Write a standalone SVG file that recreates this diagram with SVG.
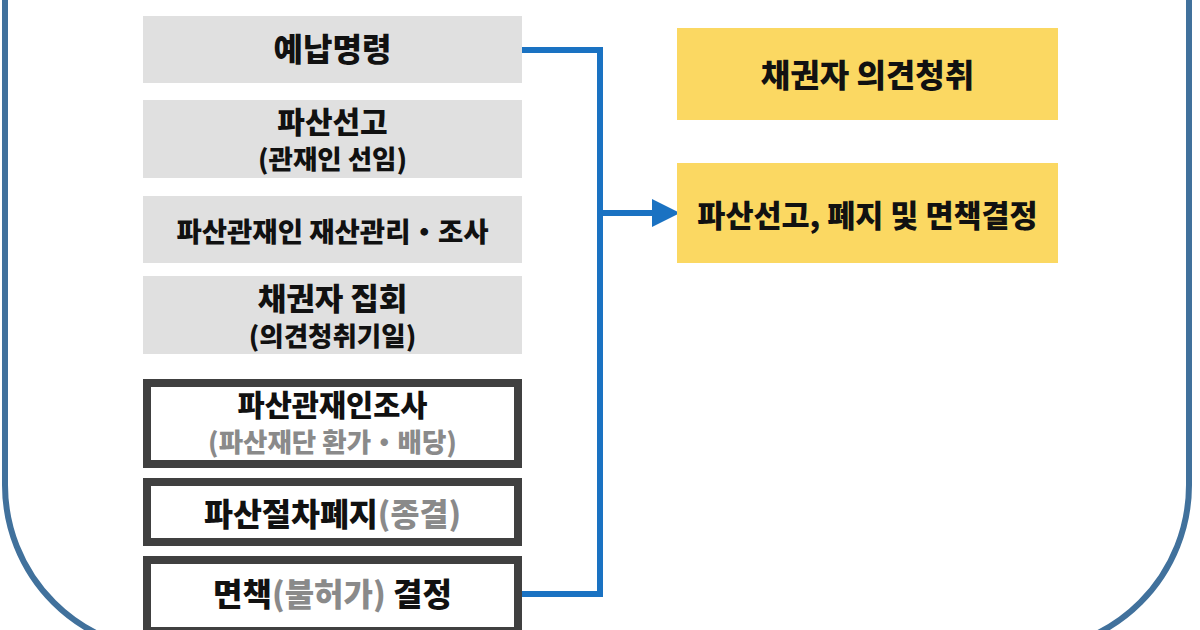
<svg xmlns="http://www.w3.org/2000/svg" width="1200" height="630" viewBox="0 0 1200 630">
<style>
.t{font-family:"Noto Sans CJK KR","Noto Sans",sans-serif;font-weight:900;fill:#111;text-anchor:middle}
.g{fill:#8a8a8a}
.gray{fill:#e0e0e0}
.dark{fill:#fff;stroke:#404040;stroke-width:8}
.yel{fill:#fbd862}
.conn{fill:none;stroke:#1a72c2;stroke-width:6}
</style>
<rect width="1200" height="630" fill="#fff"/>
<rect x="5" y="-200" width="1184" height="851" rx="166" ry="166" fill="none" stroke="#41719c" stroke-width="6"/>
<g id="connectors">
<polyline class="conn" points="522,50 600,50 600,594 522,594"/>
<line class="conn" x1="600" y1="213" x2="654" y2="213"/>
<polygon points="652,199 680,213 652,227" fill="#1a72c2"/>
</g>
<g id="n1"><rect class="gray" x="143" y="16" width="379" height="67"/><text class="t" x="332.5" y="61" font-size="32">예납명령</text></g>
<g id="n2"><rect class="gray" x="143" y="100" width="379" height="78"/><text class="t" x="332.5" y="133" font-size="30">파산선고</text><text class="t" x="332.5" y="169" font-size="26.5">(관재인 선임)</text></g>
<g id="n3"><rect class="gray" x="143" y="196" width="379" height="67"/><text class="t" x="332.5" y="242" font-size="27.5">파산관재인 재산관리・조사</text></g>
<g id="n4"><rect class="gray" x="143" y="276" width="379" height="78"/><text class="t" x="332.5" y="310" font-size="31">채권자 집회</text><text class="t" x="332.5" y="346" font-size="26.5">(의견청취기일)</text></g>
<g id="n5"><rect class="dark" x="147" y="383" width="371" height="81"/><text class="t" x="332.5" y="416" font-size="29.5">파산관재인조사</text><text class="t g" x="332.5" y="452" font-size="26.5">(파산재단 환가・배당)</text></g>
<g id="n6"><rect class="dark" x="147" y="482" width="371" height="60"/><text class="t" x="332.5" y="526" font-size="31.5">파산절차폐지<tspan class="g">(종결)</tspan></text></g>
<g id="n7"><rect class="dark" x="147" y="560" width="371" height="71"/><text class="t" x="332.5" y="606" font-size="32">면책<tspan class="g">(불허가)</tspan> 결정</text></g>
<g id="y1"><rect class="yel" x="677" y="28" width="381" height="92"/><text class="t" x="867.5" y="87" font-size="32">채권자 의견청취</text></g>
<g id="y2"><rect class="yel" x="677" y="163" width="381" height="100"/><text class="t" x="867.5" y="227" font-size="30.5">파산선고, 폐지 및 면책결정</text></g>
</svg>
